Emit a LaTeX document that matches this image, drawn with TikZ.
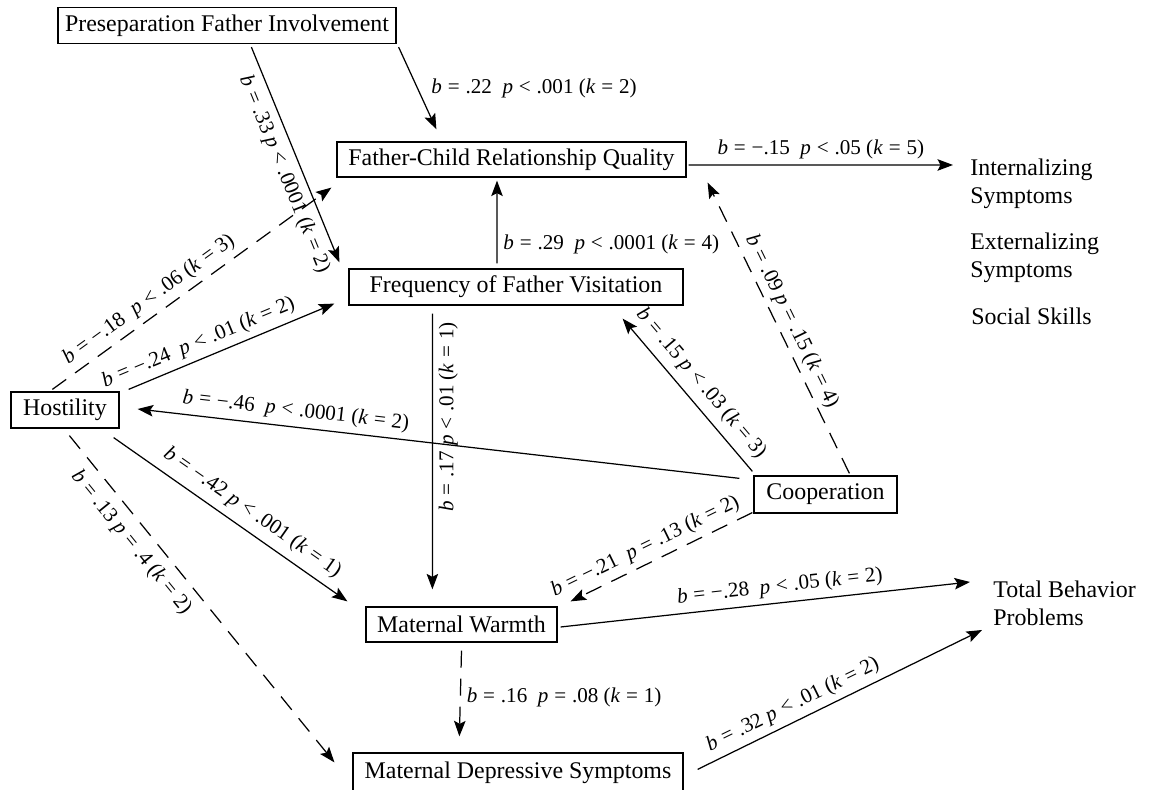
\documentclass[tikz,border=0pt]{standalone}
\usepackage{fontspec}
\setmainfont{Liberation Serif}
\usetikzlibrary{arrows.meta,positioning}

\newcommand{\bval}[1]{\textit{b}\;=\;#1}
\newcommand{\pval}[2]{\textit{p}\;#1\;#2}
\newcommand{\kval}[1]{(\textit{k}\;=\;#1)}

\begin{document}
\begin{tikzpicture}[
  box/.style={draw, line width=0.7pt, minimum height=0.72cm, inner xsep=0.14cm,
              inner ysep=3pt, font=\fontsize{13.6}{16.3}\selectfont},
  outcome/.style={anchor=west, align=left, inner sep=0pt,
                  font=\fontsize{13.6}{15.9}\selectfont},
  eff/.style={font=\fontsize{12}{14}\selectfont},
  arr/.style={line width=0.7pt, -{Stealth[length=3.1mm,width=2.3mm,inset=0.6mm]}},
  darr/.style={arr, dash pattern=on 3.4mm off 2.2mm}
]
\useasboundingbox (0,0) rectangle (23,15.8);

% constructs
\node[box, minimum width=6.76cm] (pre) at (4.54,15.29) {Preseparation Father Involvement};
\node[box, minimum width=6.98cm, minimum height=0.70cm] (fc) at (10.23,12.61) {Father-Child Relationship Quality};
\node[box, minimum width=6.68cm] (freq) at (10.32,10.06) {Frequency of Father Visitation};
\node[box, minimum width=2.16cm] (host) at (1.30,7.60) {Hostility};
\node[box, minimum width=2.86cm, minimum height=0.74cm] (coop) at (16.51,5.91) {Cooperation};
\node[box, minimum width=3.82cm, minimum height=0.70cm] (mw) at (9.23,3.31) {Maternal Warmth};
\node[box, minimum width=6.60cm, minimum height=0.78cm] (mds) at (10.36,0.35) {Maternal Depressive Symptoms};

% outcomes
\node[outcome] (int) at (19.40,12.12) {Internalizing\\Symptoms};
\node[outcome] (ext) at (19.40,10.64) {Externalizing\\Symptoms};
\node[outcome] (soc) at (19.42,9.48) {Social Skills};
\node[outcome] (tbp) at (19.86,3.74) {Total Behavior\\Problems};

% father side
\draw[arr] ([xshift=.04cm,yshift=-.06cm]pre.south east) -- ([xshift=2cm,yshift=.24cm]fc.north west)
  node[eff, midway, right=1.5mm] {\bval{.22}\enspace\pval{<}{.001} \kval{2}};
\draw[arr] ([xshift=3.88cm,yshift=-.06cm]pre.south west) -- ([xshift=-.18cm,yshift=.12cm]freq.north west)
  node[eff, pos=.56, sloped, below=1pt] {\bval{.33} \pval{<}{.0001} \kval{2}};
\draw[arr] ([xshift=-.38cm,yshift=.1cm]freq.north) -- ([xshift=-.29cm,yshift=-.06cm]fc.south)
  node[eff, pos=.23, right] {\bval{.29}\enspace\pval{<}{.0001} \kval{4}};
\draw[arr] ([xshift=.04cm,yshift=-.11cm]fc.east) -- ([xshift=-.34cm,yshift=.38cm]int.west)
  node[eff, midway, above] {\bval{−.15}\enspace\pval{<}{.05} \kval{5}};

% hostility
\draw[darr] ([xshift=.84cm,yshift=.04cm]host.north west) -- ([xshift=-.1cm,yshift=-.2cm]fc.south west)
  node[eff, pos=.38, sloped, above] {\bval{−.18}\enspace\pval{<}{.06} \kval{3}};
\draw[arr] ([xshift=.18cm,yshift=.04cm]host.north east) -- ([xshift=-.28cm,yshift=.04cm]freq.south west)
  node[eff, pos=.37, sloped, above] {\bval{−.24}\enspace\pval{<}{.01} \kval{2}};
\draw[arr] ([xshift=-.12cm,yshift=-.18cm]host.south east) -- ([xshift=-.36cm,yshift=.1cm]mw.north west)
  node[eff, pos=.55, sloped, above=1pt] {\bval{−.42} \pval{<}{.001} \kval{1}};
\draw[darr] ([xshift=1.18cm,yshift=-.14cm]host.south west) -- ([xshift=-.36cm,yshift=-.2cm]mds.north west)
  node[eff, pos=.29, sloped, below=2pt] {\bval{.13} \pval{=}{.4} \kval{2}};

% cooperation
\draw[arr] ([xshift=-.28cm,yshift=-.06cm]coop.north west) -- ([xshift=.36cm,yshift=.02cm]host.east)
  node[eff, pos=.74, sloped, above] {\bval{−.46}\enspace\pval{<}{.0001} \kval{2}};
\draw[arr] ([xshift=-.02cm,yshift=.08cm]coop.north west) -- ([xshift=-1.22cm,yshift=-.26cm]freq.south east)
  node[eff, midway, sloped, above=1pt] {\bval{.15} \pval{<}{.03} \kval{3}};
\draw[darr] ([xshift=1.92cm,yshift=.04cm]coop.north west) -- ([xshift=.42cm,yshift=-.1cm]fc.south east)
  node[eff, midway, sloped, above, inner sep=2.5pt] {\bval{.09} \pval{=}{.15} \kval{4}};
\draw[darr] ([xshift=-.02cm,yshift=.02cm]coop.south west) -- ([xshift=.26cm,yshift=.1cm]mw.north east)
  node[eff, pos=.55, sloped, above] {\bval{−.21}\enspace\pval{=}{.13} \kval{2}};

% mother side
\draw[arr] ([xshift=1.68cm,yshift=-.16cm]freq.south west) -- ([xshift=1.34cm,yshift=.34cm]mw.north west)
  node[eff, pos=.375, rotate=90, anchor=north] {\bval{.17} \pval{<}{.01} \kval{1}};
\draw[arr] ([xshift=.06cm,yshift=-.05cm]mw.east) -- ([xshift=-.46cm,yshift=.42cm]tbp.west)
  node[eff, pos=.54, sloped, above] {\bval{−.28}\enspace\pval{<}{.05} \kval{2}};
\draw[darr] ([yshift=-.16cm]mw.south) -- ([xshift=2.14cm,yshift=.32cm]mds.north west)
  node[eff, pos=.55, right] {\bval{.16}\enspace\pval{=}{.08} \kval{1}};
\draw[arr] ([xshift=.28cm,yshift=-.34cm]mds.north east) -- ([xshift=-.22cm,yshift=-.54cm]tbp.west)
  node[eff, pos=.36, sloped, above] {\bval{.32} \pval{<}{.01} \kval{2}};
\end{tikzpicture}
\end{document}
